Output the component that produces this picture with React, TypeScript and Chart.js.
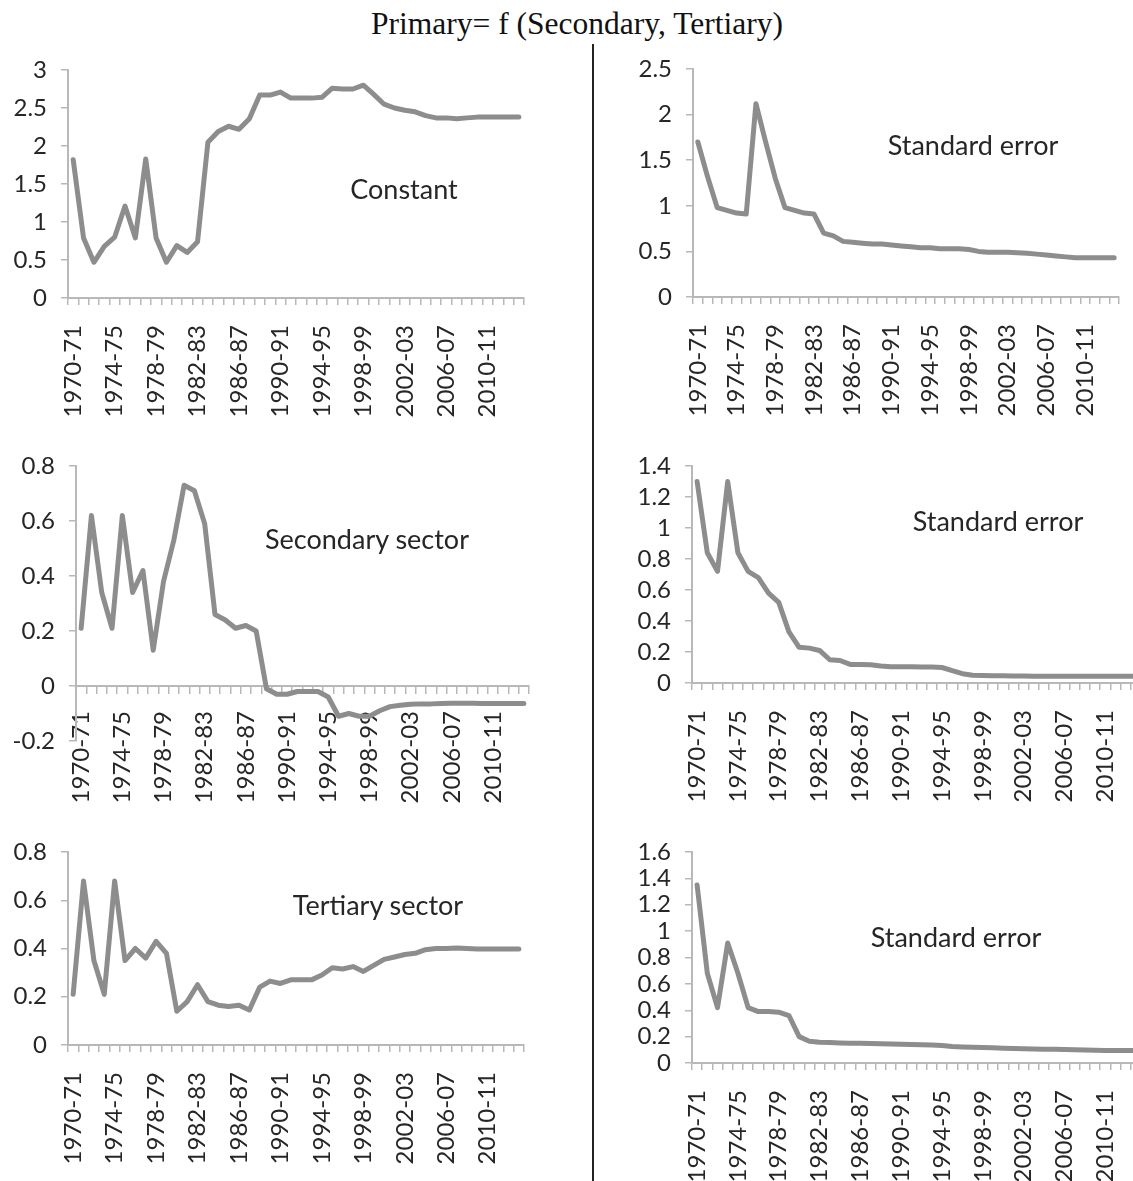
import React, { useEffect, useRef } from "react";
import { Chart, registerables } from "chart.js";

Chart.register(...registerables);

// ---------- data ----------
const categories = [
  "1970-71", "1971-72", "1972-73", "1973-74", "1974-75", "1975-76", "1976-77", "1977-78",
  "1978-79", "1979-80", "1980-81", "1981-82", "1982-83", "1983-84", "1984-85", "1985-86",
  "1986-87", "1987-88", "1988-89", "1989-90", "1990-91", "1991-92", "1992-93", "1993-94",
  "1994-95", "1995-96", "1996-97", "1997-98", "1998-99", "1999-00", "2000-01", "2001-02",
  "2002-03", "2003-04", "2004-05", "2005-06", "2006-07", "2007-08", "2008-09", "2009-10",
  "2010-11", "2011-12", "2012-13", "2013-14",
];

const tickLabelEvery = 4;

const constantValues = [
  1.82, 0.79, 0.47, 0.68, 0.8, 1.21, 0.79, 1.83, 0.79, 0.47, 0.69, 0.6, 0.74, 2.05, 2.19,
  2.26, 2.22, 2.36, 2.67, 2.67, 2.71, 2.63, 2.63, 2.63, 2.64, 2.76, 2.75, 2.75, 2.8, 2.68,
  2.55, 2.5, 2.47, 2.45, 2.4, 2.37, 2.37, 2.36, 2.37, 2.38, 2.38, 2.38, 2.38, 2.38,
];

const constantSE = [
  1.7, 1.32, 0.98, 0.95, 0.92, 0.91, 2.12, 1.7, 1.3, 0.98, 0.95, 0.92, 0.91, 0.7, 0.67,
  0.61, 0.6, 0.59, 0.58, 0.58, 0.57, 0.56, 0.55, 0.54, 0.54, 0.53, 0.53, 0.53, 0.52, 0.5,
  0.49, 0.49, 0.49, 0.485, 0.48, 0.47, 0.46, 0.45, 0.44, 0.43, 0.43, 0.43, 0.43, 0.43,
];

const secondaryValues = [
  0.21, 0.62, 0.34, 0.21, 0.62, 0.34, 0.42, 0.13, 0.38, 0.53, 0.73, 0.71, 0.59, 0.26, 0.24,
  0.21, 0.22, 0.2, -0.01, -0.03, -0.03, -0.02, -0.02, -0.02, -0.04, -0.11, -0.1, -0.11,
  -0.11, -0.09, -0.075, -0.07, -0.066, -0.065, -0.065, -0.064, -0.063, -0.063, -0.063,
  -0.064, -0.064, -0.064, -0.064, -0.064,
];

const secondarySE = [
  1.3, 0.84, 0.72, 1.3, 0.84, 0.72, 0.68, 0.58, 0.52, 0.33, 0.23, 0.225, 0.21, 0.15, 0.145,
  0.12, 0.12, 0.118, 0.11, 0.105, 0.105, 0.105, 0.103, 0.103, 0.1, 0.08, 0.06, 0.05, 0.048,
  0.047, 0.046, 0.045, 0.045, 0.044, 0.044, 0.044, 0.043, 0.043, 0.043, 0.043, 0.043, 0.043,
  0.043, 0.043,
];

const tertiaryValues = [
  0.21, 0.68, 0.35, 0.21, 0.68, 0.35, 0.4, 0.36, 0.43, 0.38, 0.14, 0.18, 0.25, 0.18, 0.165,
  0.16, 0.165, 0.145, 0.24, 0.265, 0.255, 0.27, 0.27, 0.27, 0.29, 0.32, 0.315, 0.325, 0.305,
  0.33, 0.355, 0.365, 0.375, 0.38, 0.395, 0.4, 0.4, 0.402, 0.4, 0.398, 0.398, 0.398, 0.398,
  0.398,
];

const tertiarySE = [
  1.35, 0.68, 0.42, 0.91, 0.68, 0.42, 0.39, 0.39, 0.385, 0.36, 0.2, 0.165, 0.157, 0.155,
  0.152, 0.15, 0.15, 0.148, 0.146, 0.145, 0.142, 0.14, 0.138, 0.136, 0.133, 0.125, 0.122,
  0.12, 0.118, 0.115, 0.112, 0.11, 0.108, 0.107, 0.105, 0.104, 0.102, 0.1, 0.098, 0.096,
  0.095, 0.094, 0.094, 0.094,
];

const titleText = "Primary= f (Secondary, Tertiary)";

// ---------- styles ----------
const AXIS = "#b8b8b8";
const LINE = "#8d8d8d";
const TEXT = "#262626";
const FONT = "Lato, 'Open Sans', sans-serif";
const TICK_SIZE = 24;

type Panel = {
  data: number[];
  min: number;
  max: number;
  step: number;
  left: number;
  top: number;
  width: number;
  height: number;
  yW: number;
  padTop: number;
  padRight: number;
  padBottom: number;
  xH: number;
  xPad: number;
  crossZero?: boolean;
  note: string;
  noteX: number;
  noteY: number;
};

const panels: Panel[] = [
  { data: constantValues, min: 0, max: 3, step: 0.5, left: 0, top: 50, width: 534, height: 378, yW: 68, padTop: 20, padRight: 10, padBottom: 0, xH: 130, xPad: 20, note: "Constant", noteX: 404, noteY: 188 },
  { data: constantSE, min: 0, max: 2.5, step: 0.5, left: 623, top: 49, width: 506, height: 378, yW: 70, padTop: 20, padRight: 10, padBottom: 0, xH: 130, xPad: 20, note: "Standard error", noteX: 973, noteY: 144 },
  { data: secondaryValues, min: -0.2, max: 0.8, step: 0.2, left: 0, top: 446, width: 539, height: 365, yW: 76, padTop: 20, padRight: 10, padBottom: 70, xH: 0, xPad: 18, crossZero: true, note: "Secondary sector", noteX: 367, noteY: 538 },
  { data: secondarySE, min: 0, max: 1.4, step: 0.2, left: 622, top: 446, width: 529, height: 367, yW: 70, padTop: 20, padRight: 10, padBottom: 0, xH: 130, xPad: 20, note: "Standard error", noteX: 998, noteY: 520 },
  { data: tertiaryValues, min: 0, max: 0.8, step: 0.2, left: 0, top: 832, width: 534, height: 343, yW: 68, padTop: 20, padRight: 10, padBottom: 0, xH: 130, xPad: 20, note: "Tertiary sector", noteX: 378, noteY: 904 },
  { data: tertiarySE, min: 0, max: 1.6, step: 0.2, left: 622, top: 832, width: 529, height: 361, yW: 70, padTop: 20, padRight: 10, padBottom: 0, xH: 130, xPad: 20, note: "Standard error", noteX: 956, noteY: 936 },
];

function tickList(min: number, max: number, step: number): { value: number }[] {
  const out: { value: number }[] = [];
  const n = Math.round((max - min) / step);
  for (let i = 0; i <= n; i++) out.push({ value: Math.round((min + i * step) * 1000) / 1000 });
  return out;
}

function PanelChart({ p }: { p: Panel }) {
  const ref = useRef<HTMLCanvasElement>(null);
  useEffect(() => {
    if (!ref.current) return;
    const chart = new Chart(ref.current, {
      type: "line",
      data: {
        labels: categories,
        datasets: [
          {
            data: p.data,
            borderColor: LINE,
            backgroundColor: LINE,
            borderWidth: 5,
            pointRadius: 0,
            tension: 0,
            fill: false,
            borderJoinStyle: "round",
            borderCapStyle: "round",
          },
        ],
      },
      options: {
        animation: false,
        responsive: false,
        maintainAspectRatio: false,
        devicePixelRatio: 1,
        events: [],
        layout: { padding: { top: p.padTop, right: p.padRight, bottom: p.padBottom, left: 0 } },
        plugins: {
          legend: { display: false },
          tooltip: { enabled: false },
          title: { display: false },
        },
        scales: {
          x: {
            type: "category",
            position: (p.crossZero ? { y: 0 } : "bottom") as any,
            offset: true,
            grid: {
              offset: true,
              drawOnChartArea: false,
              drawTicks: true,
              tickLength: 7,
              color: AXIS,
              lineWidth: 1.5,
            },
            border: { display: true, color: AXIS, width: 2 },
            ticks: {
              autoSkip: false,
              minRotation: 90,
              maxRotation: 90,
              padding: p.xPad,
              color: TEXT,
              font: { family: FONT, size: TICK_SIZE },
              callback: (_v: any, i: number) => (i % tickLabelEvery === 0 ? categories[i] : ""),
            },
            afterFit: (s: any) => {
              if (!p.crossZero) s.height = p.xH;
              s.paddingLeft = 0;
              s.paddingRight = 0;
            },
          },
          y: {
            type: "linear",
            min: p.min,
            max: p.max,
            grid: {
              drawOnChartArea: false,
              drawTicks: true,
              tickLength: 7,
              color: AXIS,
              lineWidth: 1.5,
            },
            border: { display: true, color: AXIS, width: 2 },
            ticks: {
              autoSkip: false,
              stepSize: p.step,
              padding: 14,
              color: TEXT,
              font: { family: FONT, size: TICK_SIZE },
              callback: (v: any) => String(Math.round(Number(v) * 1000) / 1000),
            },
            afterBuildTicks: (s: any) => {
              s.ticks = tickList(p.min, p.max, p.step);
            },
            afterFit: (s: any) => {
              s.width = p.yW;
              s.paddingTop = 0;
              s.paddingBottom = 0;
            },
          },
        },
      },
    });
    return () => chart.destroy();
  }, [p]);
  return (
    <canvas
      ref={ref}
      width={p.width}
      height={p.height}
      style={{ position: "absolute", left: p.left, top: p.top, width: p.width, height: p.height }}
    />
  );
}

export default function App() {
  return (
    <div
      style={{
        position: "absolute",
        left: 0,
        top: 0,
        width: 1133,
        height: 1181,
        overflow: "hidden",
        background: "#ffffff",
      }}
    >
      <div
        style={{
          position: "absolute",
          left: 0,
          top: 8,
          width: 1154,
          textAlign: "center",
          fontFamily: "'Liberation Serif', 'Times New Roman', serif",
          fontSize: 31.5,
          lineHeight: "32px",
          color: "#111",
          whiteSpace: "nowrap",
        }}
      >
        {titleText}
      </div>
      <div
        style={{
          position: "absolute",
          left: 592,
          top: 44,
          width: 2,
          height: 1140,
          background: "#222",
        }}
      />
      {panels.map((p, i) => (
        <PanelChart key={i} p={p} />
      ))}
      {panels.map((p, i) => (
        <div
          key={"n" + i}
          style={{
            position: "absolute",
            left: p.noteX,
            top: p.noteY,
            transform: "translate(-50%, -50%)",
            fontFamily: FONT,
            fontSize: 27,
            color: TEXT,
            whiteSpace: "nowrap",
            lineHeight: 1,
          }}
        >
          {p.note}
        </div>
      ))}
    </div>
  );
}
